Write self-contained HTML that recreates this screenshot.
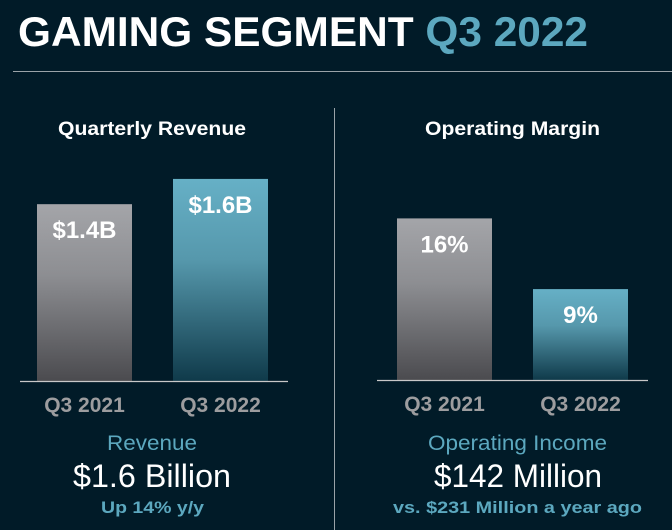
<!DOCTYPE html>
<html><head><meta charset="utf-8"><style>
body{margin:0;background:#011b28;width:672px;height:530px;overflow:hidden;font-family:"Liberation Sans",Arial,sans-serif}
svg{display:block}
</style></head><body>
<svg width="672" height="530" xmlns="http://www.w3.org/2000/svg">
<defs>
<linearGradient id="gGray" x1="0" y1="0" x2="0" y2="1"><stop offset="0" stop-color="#a4a5a9"/><stop offset="0.4" stop-color="#8d8e92"/><stop offset="1" stop-color="#4b4b4f"/></linearGradient>
<linearGradient id="gTeal" x1="0" y1="0" x2="0" y2="1"><stop offset="0" stop-color="#66b0c6"/><stop offset="0.4" stop-color="#5698ac"/><stop offset="1" stop-color="#0f3a4a"/></linearGradient>
</defs>
<text x="18" y="46" font-size="42" font-weight="bold" fill="#fff" textLength="570" lengthAdjust="spacingAndGlyphs">GAMING SEGMENT <tspan fill="#5ca8bf">Q3 2022</tspan></text>
<line x1="13" y1="71.5" x2="672" y2="71.5" stroke="#9aa3a8" stroke-width="1"/>
<line x1="334.5" y1="108" x2="334.5" y2="530" stroke="#9aa3a8" stroke-width="1"/>
<g id="left"></g><g id="right"></g>
<text x="58" y="135" font-size="19" font-weight="bold" fill="#fff" textLength="188" lengthAdjust="spacingAndGlyphs">Quarterly Revenue</text>
<text x="425" y="135" font-size="19" font-weight="bold" fill="#fff" textLength="175" lengthAdjust="spacingAndGlyphs">Operating Margin</text>
<text x="107" y="450" font-size="21" fill="#5ca8bf" textLength="90" lengthAdjust="spacingAndGlyphs">Revenue</text>
<text x="73" y="487" font-size="32" fill="#fff" textLength="158" lengthAdjust="spacingAndGlyphs">$1.6 Billion</text>
<text x="101" y="513" font-size="17" font-weight="bold" fill="#5ca8bf" textLength="103" lengthAdjust="spacingAndGlyphs">Up 14% y/y</text>
<text x="428" y="450" font-size="21" fill="#5ca8bf" textLength="179" lengthAdjust="spacingAndGlyphs">Operating Income</text>
<text x="434" y="487" font-size="32" fill="#fff" textLength="168" lengthAdjust="spacingAndGlyphs">$142 Million</text>
<text x="393" y="513" font-size="17" font-weight="bold" fill="#5ca8bf" textLength="249" lengthAdjust="spacingAndGlyphs">vs. $231 Million a year ago</text>
</svg>
<script>
const categories=["Q3 2021","Q3 2022"];
const revenueValues=[1.4,1.6];
const revenueLabels=["$1.4B","$1.6B"];
const marginValues=[16,9];
const marginLabels=["16%","9%"];
const NS="http://www.w3.org/2000/svg";
function mk(t,a){const e=document.createElementNS(NS,t);for(const k in a)e.setAttribute(k,a[k]);return e;}
function chart(gid,vals,labels,x0,baseY,scale,lineX1,lineX2,prefix){
  const g=document.getElementById(gid);
  const xAt=i=>x0+i*136;
  vals.forEach((v,i)=>{
    const h=v*scale,x=xAt(i);
    const r=mk('rect',{x:x,y:baseY-h,width:95,height:h,fill:i===0?'url(#gGray)':'url(#gTeal)'});
    
    
    g.appendChild(r);
    const t=mk('text',{x:x+47.5,y:baseY-h+34,'text-anchor':'middle','font-size':'24','font-weight':'bold',fill:'#fff'});
    t.textContent=labels[i];
    
    
    g.appendChild(t);
    const c=mk('text',{x:x+47.5,y:baseY+31,'text-anchor':'middle','font-size':'21','font-weight':'bold',fill:'#9d9d9f'});
    c.textContent=categories[i];
    
    
    g.appendChild(c);
  });
  const l=mk('line',{x1:lineX1,y1:baseY+0.5,x2:lineX2,y2:baseY+0.5,stroke:'#c8c8c8','stroke-width':1.2});
  
  
  g.appendChild(l);
}
chart('left',revenueValues,revenueLabels,37,381,126.3,20,288,'revenue');
chart('right',marginValues,marginLabels,397,380,10.1,377,648,'margin');
</script>
</body></html>
